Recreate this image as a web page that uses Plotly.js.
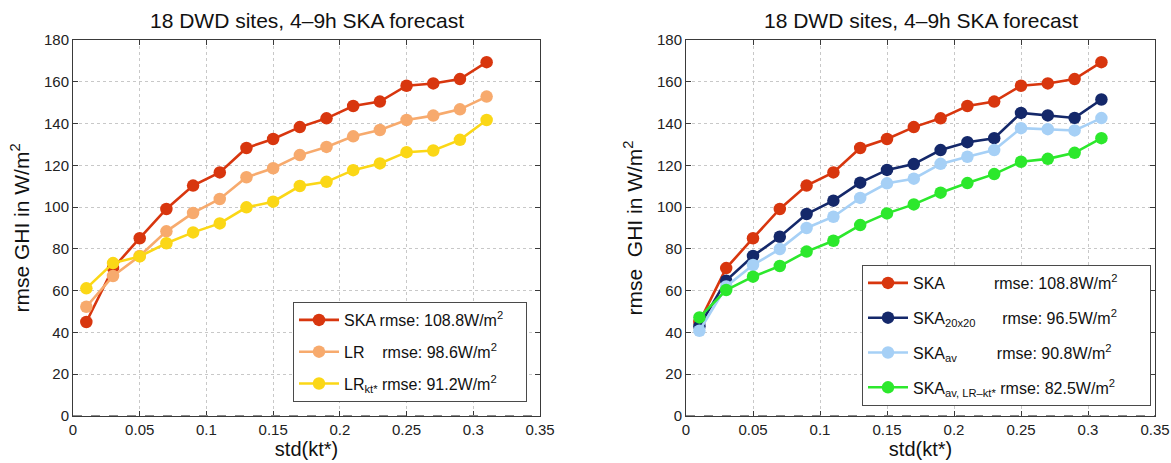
<!DOCTYPE html>
<html>
<head>
<meta charset="utf-8">
<script src="https://cdn.plot.ly/plotly-3.0.1.min.js"></script>
<style>html,body{margin:0;padding:0;background:#fff;}#chart{width:1171px;height:463px;}</style>
</head>
<body>
<div id="chart"></div>
<script>
// ---- data ----
const stdKt = [0.01, 0.03, 0.05, 0.07, 0.09, 0.11, 0.13, 0.15, 0.17, 0.19, 0.21, 0.23, 0.25, 0.27, 0.29, 0.31];
const ska      = [45.0, 70.8, 85.1, 99.1, 110.3, 116.6, 128.3, 132.6, 138.3, 142.5, 148.4, 150.5, 158.1, 159.2, 161.3, 169.4];
const lr       = [52.3, 67.0, 76.6, 88.4, 97.2, 103.9, 114.3, 118.6, 124.9, 128.8, 133.9, 136.9, 141.7, 143.8, 146.8, 152.9];
const lrKt     = [61.1, 73.2, 76.4, 82.7, 87.9, 92.2, 99.9, 102.6, 110.1, 112.1, 117.7, 120.9, 126.3, 127.1, 132.2, 141.7];
const ska20    = [43.0, 64.8, 76.6, 85.8, 96.7, 103.1, 111.7, 117.8, 120.6, 127.3, 131.1, 133.0, 145.1, 143.9, 142.7, 151.5];
const skaAv    = [40.8, 62.0, 72.3, 79.9, 90.0, 95.4, 104.4, 111.4, 113.6, 120.7, 124.1, 127.3, 137.8, 137.3, 136.7, 142.6];
const skaAvLr  = [47.2, 60.3, 66.7, 71.8, 78.7, 83.9, 91.4, 97.0, 101.3, 106.9, 111.5, 115.8, 121.7, 123.1, 126.0, 133.0];

const namesLeft = [
  "SKA rmse: 108.8W/m<sup>2</sup>\u00a0\u00a0\u00a0\u00a0",
  "LR\u00a0\u00a0\u00a0\u00a0rmse: 98.6W/m<sup>2</sup>",
  "LR<sub>kt*</sub> rmse: 91.2W/m<sup>2</sup>"
];
const namesRight = [
  "SKA\u00a0\u00a0\u00a0\u00a0\u00a0\u00a0\u00a0\u00a0\u00a0\u00a0\u00a0rmse: 108.8W/m<sup>2</sup>\u00a0\u00a0\u00a0\u00a0\u00a0\u00a0",
  "SKA<sub>20x20</sub>\u00a0\u00a0\u00a0\u00a0\u00a0\u00a0rmse: 96.5W/m<sup>2</sup>",
  "SKA<sub>av</sub>\u00a0\u00a0\u00a0\u00a0\u00a0\u00a0\u00a0\u00a0\u00a0rmse: 90.8W/m<sup>2</sup>",
  "SKA<sub>av, LR\u2013kt*</sub> rmse: 82.5W/m<sup>2</sup>"
];
const titleText = "18 DWD sites, 4\u20139h SKA forecast";

const cRed = "#d8360e", cOrange = "#f7aa6d", cYellow = "#fbd716",
      cNavy = "#14286a", cLight = "#a6d0f6", cGreen = "#2ce82c";

function tr(y, name, color, xa, ya, leg, grp) {
  return {
    x: stdKt, y: y, name: name, type: "scatter", mode: "lines+markers",
    xaxis: xa, yaxis: ya, legend: leg, legendgroup: grp,
    line: {color: color, width: 2.6},
    marker: {color: color, size: 12.5, line: {width: 0}}
  };
}

const data = [
  tr(ska, namesLeft[0], cRed, "x", "y", "legend", "a"),
  tr(lr, namesLeft[1], cOrange, "x", "y", "legend", "b"),
  tr(lrKt, namesLeft[2], cYellow, "x", "y", "legend", "c"),
  tr(ska, namesRight[0], cRed, "x2", "y2", "legend2", "d"),
  tr(ska20, namesRight[1], cNavy, "x2", "y2", "legend2", "e"),
  tr(skaAv, namesRight[2], cLight, "x2", "y2", "legend2", "f"),
  tr(skaAvLr, namesRight[3], cGreen, "x2", "y2", "legend2", "g")
];

const W = 1171, H = 463;
const fontFam = "Liberation Sans, Arial, Helvetica, sans-serif";
const yDom = [(H - 416) / H, (H - 40) / H];

function xAxis(dom, anchor) {
  return {
    domain: dom, anchor: anchor, range: [0, 0.35], dtick: 0.05, tick0: 0,
    showline: true, linecolor: "#3a3a3a", linewidth: 1, mirror: "ticks",
    ticks: "inside", ticklen: 5, tickcolor: "#3a3a3a",
    showgrid: true, gridcolor: "#c8c8c8", griddash: "dot", gridwidth: 1,
    zeroline: false, tickfont: {size: 15, color: "#222", family: fontFam},
    title: {text: "std(kt*)", font: {size: 20, color: "#111", family: fontFam}, standoff: 2}
  };
}
function yAxis(anchor, ttl) {
  return {
    domain: yDom, anchor: anchor, range: [0, 180], dtick: 20,
    showline: true, linecolor: "#3a3a3a", linewidth: 1, mirror: "ticks",
    ticks: "inside", ticklen: 5, tickcolor: "#3a3a3a",
    showgrid: true, gridcolor: "#c8c8c8", griddash: "dot", gridwidth: 1,
    zeroline: false, tickfont: {size: 15, color: "#222", family: fontFam},
    title: {text: ttl, font: {size: 21, color: "#111", family: fontFam}, standoff: 8}
  };
}

const legBase = {
  bgcolor: "#fff", bordercolor: "#4a4a4a", borderwidth: 1,
  font: {size: 16, color: "#111", family: fontFam},
  xanchor: "left", yanchor: "top", itemwidth: 40,
  traceorder: "grouped", tracegroupgap: 8
};

const layout = {
  width: W, height: H,
  margin: {l: 0, r: 0, t: 0, b: 0},
  paper_bgcolor: "#fff", plot_bgcolor: "#fff",
  font: {family: fontFam},
  showlegend: true,
  xaxis: xAxis([73 / W, 540 / W], "y"),
  yaxis: yAxis("x", "rmse GHI in W/m<sup>2</sup>"),
  xaxis2: xAxis([686 / W, 1155 / W], "y2"),
  yaxis2: yAxis("x2", "rmse\u00a0\u00a0GHI in W/m<sup>2</sup>"),
  legend: Object.assign({}, legBase, {x: 293 / W, y: (H - 302) / H}),
  legend2: Object.assign({}, legBase, {x: 862 / W, y: (H - 265) / H, tracegroupgap: 11}),
  annotations: [
    {text: titleText, xref: "paper", yref: "paper", x: 306.5 / W, y: 1 - 20 / H,
     xanchor: "center", yanchor: "middle", showarrow: false,
     font: {size: 21, color: "#111", family: fontFam}},
    {text: titleText, xref: "paper", yref: "paper", x: 920.5 / W, y: 1 - 20 / H,
     xanchor: "center", yanchor: "middle", showarrow: false,
     font: {size: 21, color: "#111", family: fontFam}}
  ],
  shapes: [
    {type: "line", xref: "x", yref: "y", x0: 0, x1: 0.35, y0: 0, y1: 0,
     line: {color: "#8a8a8a", width: 2, dash: "dash"}},
    {type: "line", xref: "x2", yref: "y2", x0: 0, x1: 0.35, y0: 0, y1: 0,
     line: {color: "#8a8a8a", width: 2, dash: "dash"}}
  ]
};

Plotly.newPlot("chart", data, layout, {displayModeBar: false, staticPlot: true});
</script>
</body>
</html>
